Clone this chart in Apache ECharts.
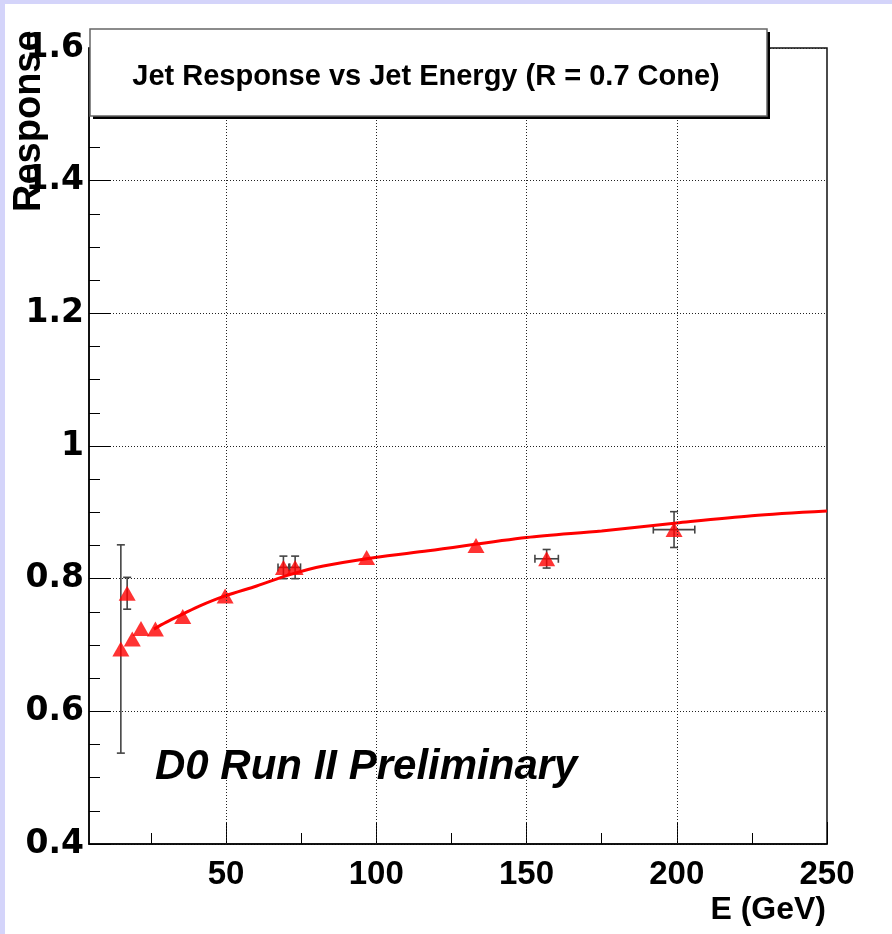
<!DOCTYPE html>
<html>
<head>
<meta charset="utf-8">
<title>Jet Response vs Jet Energy</title>
<script src="https://cdn.jsdelivr.net/npm/echarts@6/dist/echarts.min.js"></script>
<style>
  html, body { margin: 0; padding: 0; background: #fff; }
  #main { width: 892px; height: 934px; }
</style>
</head>
<body>
<div id="main"></div>
<script>
var energy    = [15.0, 17.1, 18.8, 21.7, 26.5, 35.6, 49.7, 69.1, 73.0, 96.8, 133.2, 156.7, 199.1];
var response  = [0.694, 0.778, 0.709, 0.725, 0.724, 0.743, 0.774, 0.817, 0.817, 0.832, 0.850, 0.830, 0.874];
var respErr   = [0.157, 0.024, 0, 0, 0, 0, 0, 0.017, 0.017, 0, 0, 0.014, 0.027];
var energyErr = [0, 0, 0, 0, 0, 0, 0, 1.8, 1.8, 0, 0, 3.9, 6.9];

// fitted curve
var fitE    = [26, 30, 35.8, 41.3, 49.7, 60.2, 71.3, 82.4, 99.6, 117.3, 150, 175, 200, 225, 250];
var fitResp = [0.724, 0.734, 0.747, 0.759, 0.774, 0.789, 0.806, 0.819, 0.832, 0.842, 0.862, 0.872, 0.884, 0.895, 0.902];

var xMajor = [50, 100, 150, 200, 250];
var xMinor = [25, 75, 125, 175, 225];
var xGrid  = [50, 100, 150, 200];

var chart = echarts.init(document.getElementById('main'));

var points = energy.map(function (e, i) { return [e, response[i]]; });
var errs = energy.map(function (e, i) { return [e, response[i], energyErr[i], respErr[i]]; });
var fit = fitE.map(function (e, i) { return [e, fitResp[i]]; });

var errColor = '#444';
function renderErr(params, api) {
  var x = api.value(0), y = api.value(1), dx = api.value(2), dy = api.value(3);
  var kids = [];
  var st = { stroke: errColor, lineWidth: 1.6 };
  if (dy > 0) {
    var t = api.coord([x, y + dy]), b = api.coord([x, y - dy]);
    kids.push({ type: 'line', shape: { x1: t[0], y1: t[1], x2: b[0], y2: b[1] }, style: st });
    kids.push({ type: 'line', shape: { x1: t[0] - 4, y1: t[1], x2: t[0] + 4, y2: t[1] }, style: st });
    kids.push({ type: 'line', shape: { x1: b[0] - 4, y1: b[1], x2: b[0] + 4, y2: b[1] }, style: st });
  }
  if (dx > 0) {
    var l = api.coord([x - dx, y]), r = api.coord([x + dx, y]);
    kids.push({ type: 'line', shape: { x1: l[0], y1: l[1], x2: r[0], y2: r[1] }, style: st });
    kids.push({ type: 'line', shape: { x1: l[0], y1: l[1] - 4, x2: l[0], y2: l[1] + 4 }, style: st });
    kids.push({ type: 'line', shape: { x1: r[0], y1: r[1] - 4, x2: r[0], y2: r[1] + 4 }, style: st });
  }
  return { type: 'group', children: kids };
}

var dotted = { color: '#222', width: 1, type: [1, 2] };

var option = {
  backgroundColor: '#fff',
  animation: false,
  grid: {
    left: 89, right: 65, top: 48, bottom: 90,
    show: true, borderColor: '#111', borderWidth: 1.5, backgroundColor: 'transparent'
  },
  xAxis: [{
    type: 'value', min: 4.4, max: 250,
    axisLine: { show: true, lineStyle: { color: '#000', width: 1.5 } },
    axisTick: { show: true, inside: true, length: 22, customValues: xMajor, lineStyle: { color: '#000', width: 1 } },
    axisLabel: {
      customValues: xMajor, color: '#000', margin: 14,
      fontFamily: 'Liberation Sans', fontWeight: 'bold', fontSize: 33
    },
    splitLine: { show: false }
  }, {
    type: 'value', min: 4.4, max: 250, position: 'bottom',
    axisLine: { show: false },
    axisTick: { show: true, inside: true, length: 11, customValues: xMinor, lineStyle: { color: '#000', width: 1 } },
    axisLabel: { show: false },
    splitLine: { show: false }
  }],
  yAxis: {
    type: 'value', min: 0.4, max: 1.6, interval: 0.2,
    axisLine: { show: true, lineStyle: { color: '#000', width: 1.5 } },
    axisTick: { show: true, inside: true, length: 22, lineStyle: { color: '#000', width: 1 } },
    minorTick: { show: true, splitNumber: 4, length: 11, lineStyle: { color: '#000', width: 1 } },
    axisLabel: {
      color: '#000', margin: 5,
      fontFamily: 'DejaVu Sans', fontWeight: 'bold', fontSize: 33
    },
    splitLine: { show: true, lineStyle: dotted }
  },
  series: [{
    type: 'custom',
    name: 'errors',
    renderItem: renderErr,
    data: errs,
    z: 2,
    silent: true,
    markLine: {
      silent: true,
      symbol: 'none',
      label: { show: false },
      lineStyle: dotted,
      data: xGrid.map(function (v) { return { xAxis: v }; })
    }
  }, {
    type: 'line',
    name: 'fit',
    data: fit,
    smooth: 0.3,
    showSymbol: false,
    lineStyle: { color: '#ff0000', width: 3 },
    z: 3
  }, {
    type: 'scatter',
    name: 'data',
    data: points,
    symbol: 'triangle',
    symbolSize: [17, 15],
    itemStyle: { color: '#ff0000' },
    z: 4
  }],
  graphic: [
    // lavender edge of the slide
    { type: 'rect', left: 0, top: 0, shape: { width: 892, height: 4 }, style: { fill: '#d4d4fa' }, z: 100 },
    { type: 'rect', left: 0, top: 0, shape: { width: 5, height: 934 }, style: { fill: '#d4d4fa' }, z: 100 },
    // title pave with shadow
    { type: 'rect', shape: { x: 93, y: 32, width: 677, height: 87 }, style: { fill: '#000' }, z: 100 },
    { type: 'rect', shape: { x: 90, y: 29, width: 677, height: 87 }, style: { fill: '#fff', stroke: '#666', lineWidth: 1.5 }, z: 101 },
    {
      type: 'text', x: 426, y: 77, z: 102,
      style: {
        text: 'Jet Response vs Jet Energy (R = 0.7 Cone)', fill: '#000',
        font: 'bold 29px "Liberation Sans"', textAlign: 'center', textVerticalAlign: 'middle'
      }
    },
    {
      type: 'text', x: 155, y: 767, z: 102,
      style: {
        text: 'D0 Run II Preliminary', fill: '#000',
        font: 'italic bold 42px "Liberation Sans"', textAlign: 'left', textVerticalAlign: 'middle'
      }
    },
    {
      type: 'text', x: 826, y: 910, z: 102,
      style: {
        text: 'E (GeV)', fill: '#000',
        font: 'bold 32px "Liberation Sans"', textAlign: 'right', textVerticalAlign: 'middle'
      }
    },
    {
      type: 'text', x: 30, y: 212, rotation: Math.PI / 2, z: 102,
      style: {
        text: 'Response', fill: '#000',
        font: 'bold 38px "Liberation Sans"', textAlign: 'left', textVerticalAlign: 'middle'
      }
    }
  ]
};

chart.setOption(option);
</script>
</body>
</html>
